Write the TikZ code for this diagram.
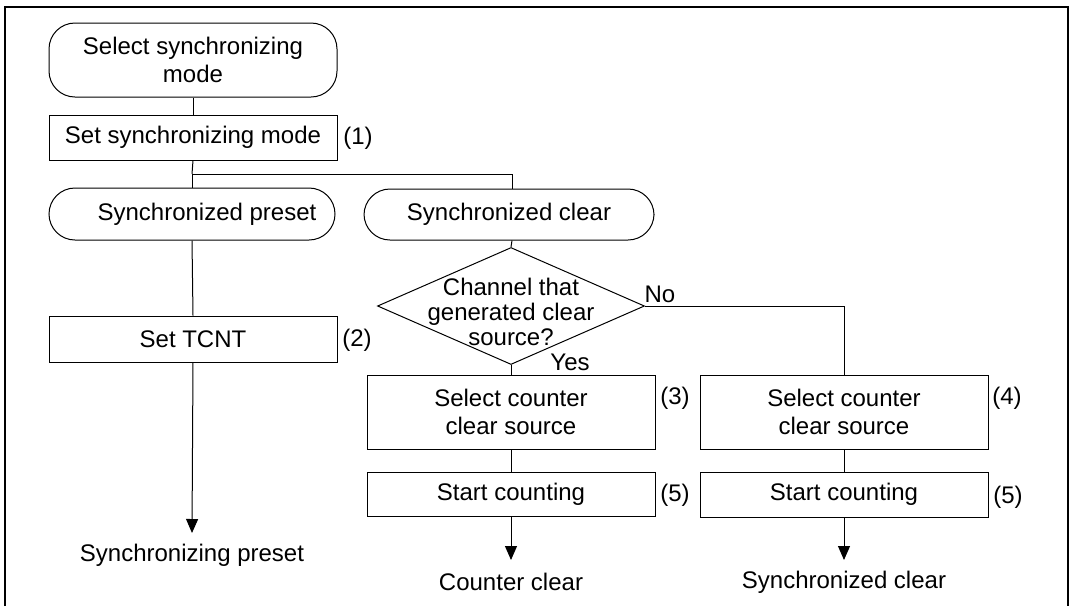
\documentclass[tikz,border=0pt]{standalone}
\usepackage{fontspec}
\setmainfont{Liberation Sans}
\usetikzlibrary{shapes.geometric,arrows.meta}
\tikzset{
  txt/.style={font=\fontsize{24}{28}\selectfont, align=center, inner sep=0pt},
  term/.style={txt, draw, line width=1pt, rounded corners=26pt, minimum width=288pt},
  proc/.style={txt, draw, line width=1pt, minimum width=288pt},
  decision/.style={draw, line width=1pt, diamond, inner sep=0pt, minimum width=267pt, minimum height=117pt},
  conn/.style={line width=1pt},
  arr/.style={line width=1pt, -{Triangle[width=12pt,length=14pt]}},
  num/.style={txt}
}
\begin{document}
\begin{tikzpicture}[x=1pt,y=-1pt]
\useasboundingbox (0,0) rectangle (1073,606);
\draw[line width=2.5pt] (5,606) -- (5,7) -- (1068,7) -- (1068,606);

% left column
\node[term, minimum height=74pt] (T1) at (193,60) {Select synchronizing\\mode};
\node[proc, minimum height=45pt] (B1) at (193,137.5) {Set synchronizing mode};
\node[num] (L1) at (358,138) {(1)};
\coordinate (J) at (192,174);
\node[term, minimum height=52pt, minimum width=286pt] (T2) at (192,214) {\hspace*{30pt}Synchronized preset};
\node[proc, minimum height=46pt] (B2) at (193,339) {Set TCNT};
\node[num] (L2) at (357,340) {(2)};
\coordinate (E1) at (192,533);
\node[txt] (R1) at (192,555) {Synchronizing preset};

% middle column
\node[term, minimum height=51pt, minimum width=290pt] (T3) at (509,214.5) {Synchronized clear};
\node[decision] (D) at (511,306) {};
\node[txt, font=\fontsize{24}{25}\selectfont] (DT) at (511,312) {Channel that\\generated clear\\source?};
\node[txt] (NO) at (660,294) {No};
\node[txt] (YES) at (570,362) {Yes};
\node[proc, minimum height=74pt] (B3) at (511,412) {Select counter\\clear source};
\node[num] (L3) at (675,398) {(3)};
\node[proc, minimum height=44pt] (B5) at (511,494) {Start counting};
\node[num] (L5a) at (675,495) {(5)};
\coordinate (E2) at (511,560);
\node[txt] (R2) at (511,582) {Counter clear};

% right column
\node[proc, minimum height=74pt] (B4) at (844,412) {Select counter\\clear source};
\node[num] (L4) at (1007,398) {(4)};
\node[proc, minimum height=45pt] (B6) at (844,494.5) {Start counting};
\node[num] (L5b) at (1008,497) {(5)};
\coordinate (E3) at (844,560);
\node[txt] (R3) at (844,582) {Synchronized clear};

% connectors
\draw[conn] (T1.south) -- (B1.north);
\draw[conn] (B1.south) -- (J);
\draw[conn] (J) -- (T2.north);
\draw[conn] (J) -| ([xshift=3pt]T3.north);
\draw[conn] (T2.south) -- (B2.north);
\draw[arr] (B2.south) -- (E1);
\draw[conn] ([xshift=3pt]T3.south) -- (D.north);
\draw[conn] (D.south) -- (B3.north);
\draw[conn] (D.east) -| (B4.north);
\draw[conn] (B3.south) -- (B5.north);
\draw[conn] (B4.south) -- (B6.north);
\draw[arr] (B5.south) -- (E2);
\draw[arr] (B6.south) -- (E3);
\end{tikzpicture}
\end{document}
